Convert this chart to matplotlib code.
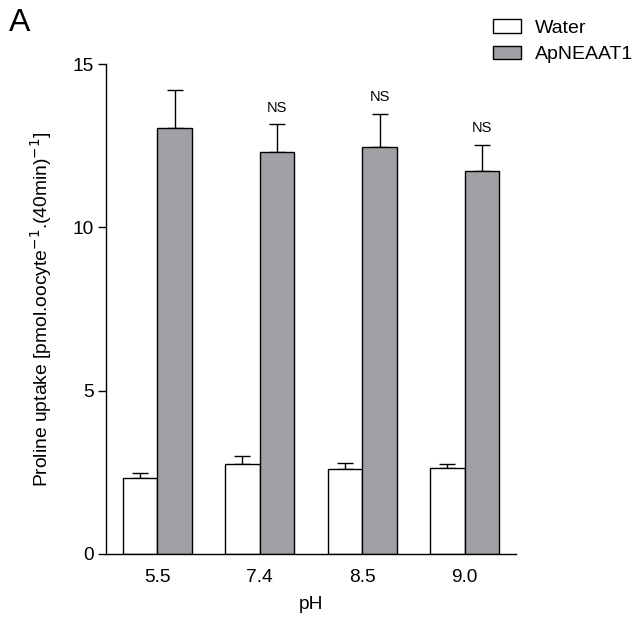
import matplotlib
matplotlib.use("Agg")
import matplotlib.pyplot as plt
import numpy as np

plt.rcParams['font.family'] = ['Liberation Sans', 'DejaVu Sans']

categories = ["5.5", "7.4", "8.5", "9.0"]
water_vals = [2.33, 2.76, 2.61, 2.63]
water_err = [0.14, 0.23, 0.19, 0.14]
ap_vals = [13.05, 12.31, 12.47, 11.72]
ap_err = [1.17, 0.84, 1.01, 0.80]
sig_labels = ["", "NS", "NS", "NS"]
series_names = ["Water", "ApNEAAT1"]

fig = plt.figure(figsize=(6.37, 6.24), dpi=100)
ax = fig.add_axes([0.1664, 0.1122, 0.810 - 0.1664, 0.8974 - 0.1122])

x = np.arange(len(categories))
w = 0.337
ekw = dict(elinewidth=1.0, capthick=1.0, capsize=6, ecolor='black')
b1 = ax.bar(x - w / 2, water_vals, w, color='white', edgecolor='black', linewidth=1.0,
            label=series_names[0], zorder=2)
ax.errorbar(x - w / 2, water_vals, yerr=[np.zeros(4), water_err], fmt='none', zorder=1, **ekw)
b2 = ax.bar(x + w / 2, ap_vals, w, color='#a1a0a5', edgecolor='black', linewidth=1.0,
            label=series_names[1], zorder=2)
ax.errorbar(x + w / 2, ap_vals, yerr=[np.zeros(4), ap_err], fmt='none', zorder=1, **ekw)

for xi, v, e, s in zip(x, ap_vals, ap_err, sig_labels):
    if s:
        ax.annotate(s, (xi + w / 2, v + e), xytext=(0, 7), textcoords='offset points',
                    ha='center', va='bottom', fontsize=10.5)

ax.set_xlim(-0.5, 3.5)
ax.set_ylim(0, 15)
ax.set_yticks([0, 5, 10, 15])
ax.set_xticks(x)
ax.set_xticklabels(categories)
ax.tick_params(axis='x', length=0, pad=11, labelsize=13.8)
ax.tick_params(axis='y', length=6, width=1.0, pad=3, labelsize=13.8, direction='out')
for s in ['top', 'right']:
    ax.spines[s].set_visible(False)
ax.spines['left'].set_linewidth(1.0)
ax.spines['bottom'].set_linewidth(1.0)

ax.set_xlabel("pH", fontsize=13.8, labelpad=7)
ax.set_ylabel("Proline uptake [pmol.oocyte$^{-1}$.(40min)$^{-1}$]", fontsize=13.9, labelpad=13)

fig.text(0.014, 0.963, "A", fontsize=23, ha='left', va='center')

leg = fig.legend(handles=[b1, b2], loc='upper left', bbox_to_anchor=(0.747, 0.997),
                 frameon=False, fontsize=14, handlelength=1.4, handleheight=0.7,
                 handletextpad=0.75, labelspacing=0.45)

fig.savefig("out.png", dpi=100)
